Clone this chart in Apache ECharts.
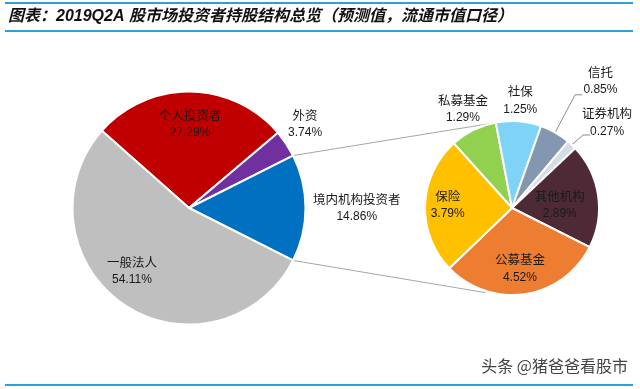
<!DOCTYPE html>
<html>
<head>
<meta charset="utf-8">
<script src="https://cdn.jsdelivr.net/npm/echarts@6/dist/echarts.min.js"></script>
<style>
html,body{margin:0;padding:0;background:#fff;}
#chart{width:640px;height:389px;}
</style>
</head>
<body>
<div id="chart"></div>
<script>
// ---- data ----
const titleText = '图表：2019Q2A 股市场投资者持股结构总览（预测值，流通市值口径）';
const watermarkText = '头条 @猪爸爸看股市';
const leftNames = ['个人投资者', '外资', '境内机构投资者', '一般法人'];
const leftValues = [27.29, 3.74, 14.86, 54.11];
const rightNames = ['私募基金', '社保', '信托', '证券机构', '其他机构', '公募基金', '保险'];
const rightValues = [1.29, 1.25, 0.85, 0.27, 2.89, 4.52, 3.79];

// ---- styles / layout ----
const leftColors = ['#C00000', '#7030A0', '#0070C0', '#BFBFBF'];
const rightColors = ['#92D050', '#7FD3F7', '#8497B0', '#D6DCE4', '#4E2A36', '#ED7D31', '#FFC000'];
const L = { cx: 189, cy: 208, r: 116.5 };
const R = { cx: 512, cy: 208, r: 87 };
const expandIndex = 2; // 境内机构投资者 is broken out
function sum(a) { return a.reduce((s, v) => s + v, 0); }
// left pie: broken-out slice centred on 0°
L.start = (sum(leftValues.slice(0, expandIndex)) + leftValues[expandIndex] / 2) / sum(leftValues) * 360;
R.start = 132;
// label placement: [radius factor, angle shift]
const leftLabelPos = [[0.72, 0], [1.23, 2.4], [1.44, 0], [0.73, -8]];
const rightLabelPos = [[1.27, 0], [1.24, 0], [1.78, -5], [1.47, -4.6], [0.55, -4.7], [0.70, -1.1], [0.74, -0.6]];

function angleAt(values, start, cum) { return start - cum / sum(values) * 360; }
function midAngle(values, start, i) {
  return angleAt(values, start, sum(values.slice(0, i)) + values[i] / 2);
}
function polar(p, rad, deg) {
  const a = deg * Math.PI / 180;
  return [p.cx + rad * Math.cos(a), p.cy - rad * Math.sin(a)];
}

const chart = echarts.init(document.getElementById('chart'));

const richStyle = {
  n: { fontFamily: 'Noto Sans CJK SC', fontSize: 12.5, color: '#1a1a1a', lineHeight: 18, align: 'center' },
  v: { fontFamily: 'Liberation Sans', fontSize: 12, color: '#1a1a1a', lineHeight: 18, align: 'center' }
};

function makeSeries(names, values, colors, geo, posArr) {
  return {
    type: 'pie',
    center: [geo.cx, geo.cy],
    radius: geo.r,
    startAngle: geo.start,
    clockwise: true,
    avoidLabelOverlap: false,
    silent: true,
    animation: false,
    itemStyle: { borderColor: '#fff', borderWidth: 2 },
    label: {
      show: true,
      position: 'inside',
      formatter: p => '{n|' + p.name + '}\n{v|' + p.value.toFixed(2) + '%}',
      rich: richStyle
    },
    labelLine: { show: false },
    labelLayout: function (params) {
      const i = params.dataIndex;
      const pos = posArr[i];
      const pt = polar(geo, geo.r * pos[0], midAngle(values, geo.start, i) + pos[1]);
      return { x: pt[0], y: pt[1], align: 'center', verticalAlign: 'middle' };
    },
    data: names.map((n, i) => ({ name: n, value: values[i], itemStyle: { color: colors[i] } }))
  };
}

// connectors between the pies
const upA = angleAt(leftValues, L.start, sum(leftValues.slice(0, expandIndex)));
const loA = angleAt(leftValues, L.start, sum(leftValues.slice(0, expandIndex + 1)));
const conn1 = [polar(L, L.r, upA), polar(R, R.r, 102.5)];
const conn2 = [polar(L, L.r, loA), polar(R, R.r * 1.02, -107.5)];
// leader lines for 信托 / 证券机构
function leader(i, k0, k1, dA) {
  const m = midAngle(rightValues, R.start, i);
  const p0 = polar(R, R.r * k0, m);
  const p1 = polar(R, R.r * k1, m + dA);
  return [p0, p1, [p1[0] + 7, p1[1]]];
}
const lead1 = leader(2, 0.97, 1.49, 0.7);
const lead2 = leader(3, 1.0, 1.17, -0.8);

const ruleColor = '#2F9FDA';
const option = {
  backgroundColor: '#fff',
  animation: false,
  title: {
    text: titleText,
    left: 8, top: 9, padding: 0,
    textStyle: { fontFamily: 'Liberation Sans, Noto Sans CJK SC', fontSize: 16, fontWeight: 'bold', fontStyle: 'italic', color: '#111' }
  },
  graphic: [
    { type: 'line', shape: { x1: 5, y1: 3, x2: 633, y2: 3 }, style: { stroke: ruleColor, lineWidth: 2 } },
    { type: 'line', shape: { x1: 5, y1: 31, x2: 633, y2: 31 }, style: { stroke: ruleColor, lineWidth: 2 } },
    { type: 'line', shape: { x1: 5, y1: 385, x2: 633, y2: 385 }, style: { stroke: ruleColor, lineWidth: 2 } },
    { type: 'polyline', shape: { points: conn1 }, style: { stroke: '#A6A6A6', lineWidth: 1, fill: null } },
    { type: 'polyline', shape: { points: conn2 }, style: { stroke: '#A6A6A6', lineWidth: 1, fill: null } },
    { type: 'polyline', shape: { points: lead1 }, style: { stroke: '#8C8C8C', lineWidth: 1, fill: null } },
    { type: 'polyline', shape: { points: lead2 }, style: { stroke: '#8C8C8C', lineWidth: 1, fill: null } },
    { type: 'text', x: 628, y: 366, style: { text: watermarkText, fontFamily: 'Noto Sans CJK SC', fontSize: 16, fill: '#444', align: 'right', verticalAlign: 'middle' } }
  ],
  series: [
    makeSeries(leftNames, leftValues, leftColors, L, leftLabelPos),
    makeSeries(rightNames, rightValues, rightColors, R, rightLabelPos)
  ]
};
chart.setOption(option);
</script>
</body>
</html>
